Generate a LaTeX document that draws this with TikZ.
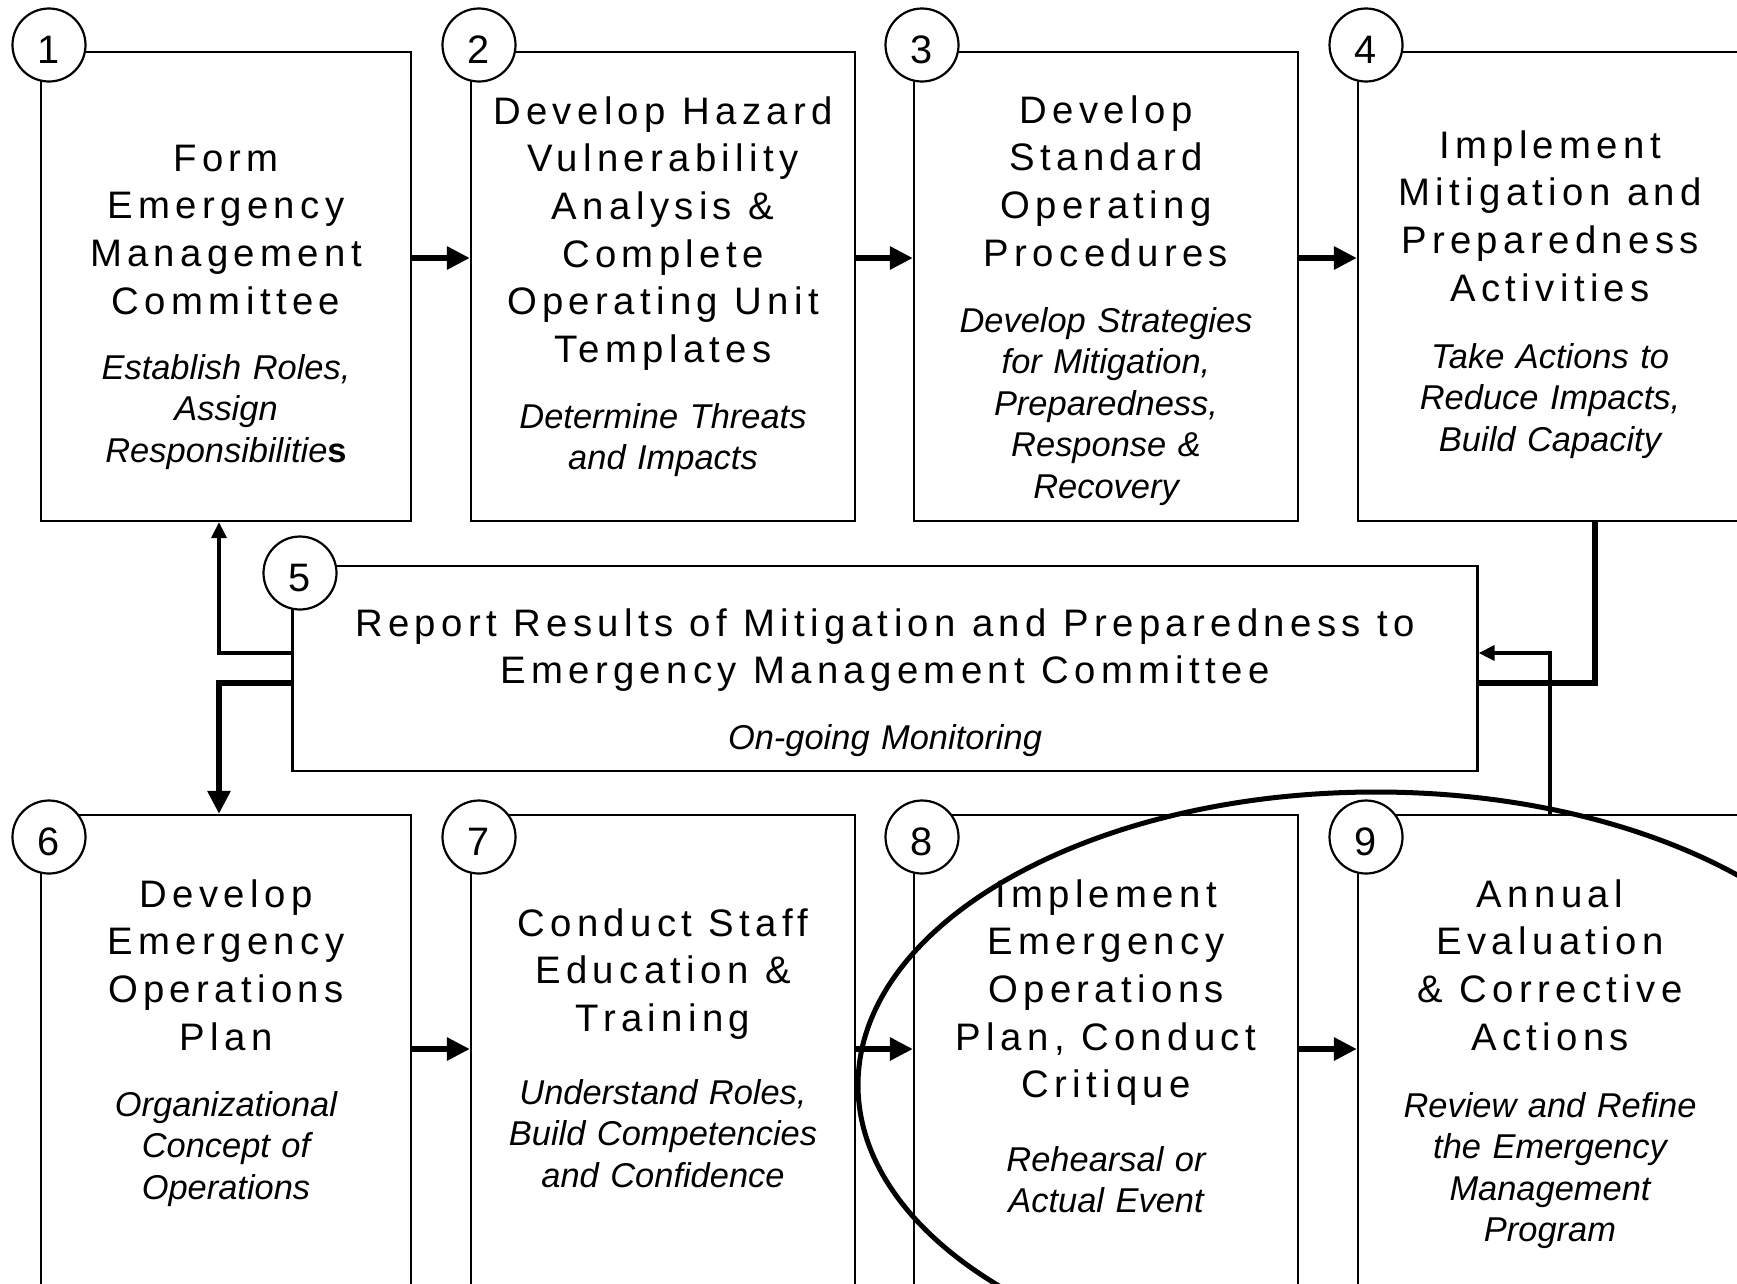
\documentclass[tikz,border=0pt]{standalone}
\usepackage{fontspec}
\setmainfont{Liberation Sans}
\newfontfamily\trackedsans[LetterSpace=14]{Liberation Sans}
\usetikzlibrary{arrows.meta}
\newcommand\headfont{\trackedsans\fontsize{10.9}{13.57}\selectfont}
\newcommand\notefont{\itshape\fontsize{9.8}{11.85}\selectfont}
\newcommand\badgefont{\fontsize{11.3}{13}\selectfont}
\begin{document}
\begin{tikzpicture}[x=0.1mm,y=-0.1mm,
  stage/.style={draw,line width=0.22mm,inner sep=0pt,minimum width=38.4mm,minimum height=46.9mm},
  badge/.style={draw,circle,fill=white,line width=0.22mm,inner sep=0pt,minimum size=7.3mm,
    text height=3.75mm,text depth=0pt,font=\badgefont},
  heading/.style={anchor=base,text width=60mm,align=center,font=\headfont,
    execute at begin node={\spaceskip=0.43em\relax}},
  note/.style={anchor=base,text width=60mm,align=center,font=\notefont},
  flow/.style={line width=0.67mm,-{Triangle[length=2.3mm,width=2.2mm]}},
  feed/.style={line width=0.35mm,-{Triangle[length=1.6mm,width=1.5mm]}},
  trunk/.style={line width=0.67mm}]
\useasboundingbox (0,0) rectangle (1737,1283);
\clip (0,0) rectangle (1737,1283);
% boxes
\node[stage,minimum width=37mm] (S1) at (226,286.5) {};
\node[stage] (S2) at (663,286.5) {};
\node[stage] (S3) at (1106,286.5) {};
\node[stage] (S4) at (1550,286.5) {};
\node[stage,minimum width=118.5mm,minimum height=20.5mm] (S5) at (885,668.5) {};
\node[stage,minimum width=37mm,minimum height=48.5mm] (S6) at (226,1057.5) {};
\node[stage,minimum height=48.5mm] (S7) at (663,1057.5) {};
\node[stage,minimum height=48.5mm] (S8) at (1106,1057.5) {};
\node[stage,minimum height=48.5mm] (S9) at (1550,1057.5) {};
% numbers
\node[badge] (N1) at (49,45) {1};
\node[badge] (N2) at (479,45) {2};
\node[badge] (N3) at (922,45) {3};
\node[badge] (N4) at (1366,45) {4};
\node[badge] (N5) at (300,573) {5};
\node[badge] (N6) at (49,837) {6};
\node[badge] (N7) at (479,837) {7};
\node[badge] (N8) at (922,837) {8};
\node[badge] (N9) at (1366,837) {9};
% texts
\node[heading] (T1) at (226,171) {Form\\Emergency\\Management\\Committee};
\node[note] (D1) at (226,379) {Establish Roles,\\Assign\\Responsibilitie{\bfseries\upshape s}};
\node[heading] (T2) at (663,124) {Develop Hazard\\Vulnerability\\Analysis \&\\Complete\\Operating Unit\\Templates};
\node[note] (D2) at (663,428) {Determine Threats\\and Impacts};
\node[heading] (T3) at (1106,123) {Develop\\Standard\\Operating\\Procedures};
\node[note] (D3) at (1106,332) {Develop Strategies\\for Mitigation,\\Preparedness,\\Response \&\\Recovery};
\node[heading] (T4) at (1550,158) {Implement\\Mitigation and\\Preparedness\\Activities};
\node[note] (D4) at (1550,368) {Take Actions to\\Reduce Impacts,\\Build Capacity};
\node[heading,text width=120mm] (T5) at (885,636) {Report Results of Mitigation and Preparedness to\\Emergency Management Committee};
\node[note] (D5) at (885,749) {On-going Monitoring};
\node[heading] (T6) at (226,907) {Develop\\Emergency\\Operations\\Plan};
\node[note] (D6) at (226,1116) {Organizational\\Concept of\\Operations};
\node[heading] (T7) at (663,936) {Conduct Staff\\Education \&\\Training};
\node[note] (D7) at (663,1104) {Understand Roles,\\Build Competencies\\and Confidence};
\node[heading] (T8) at (1106,907) {Implement\\Emergency\\Operations\\Plan, Conduct\\Critique};
\node[note] (D8) at (1106,1171) {Rehearsal or\\Actual Event};
\node[heading] (T9) at (1550,907) {Annual\\Evaluation\\\& Corrective\\Actions};
\node[note] (D9) at (1550,1117) {Review and Refine\\the Emergency\\Management\\Program};
% connectors
\coordinate (upper) at (0,258);
\coordinate (lower) at (0,1049);
\coordinate (lane) at (219,0);
\coordinate (drop) at (1595,0);
\coordinate (fb) at (0,653);
\coordinate (fd) at (0,683);
\draw[flow] (S1.east |- upper) -- (S2.west |- upper);
\draw[flow] (S2.east |- upper) -- (S3.west |- upper);
\draw[flow] (S3.east |- upper) -- (S4.west |- upper);
\draw[flow] (S6.east |- lower) -- (S7.west |- lower);
\draw[flow] (S7.east |- lower) -- (S8.west |- lower);
\draw[flow] (S8.east |- lower) -- (S9.west |- lower);
\draw[trunk] (drop |- S4.south) |- (S5.east |- fd);
\draw[feed] (S9.north) |- (S5.east |- fb);
\draw[feed] (S5.west |- fb) -| (lane |- S1.south);
\draw[flow] (S5.west |- fd) -| (lane |- S6.north);
% highlight
\draw[line width=0.5mm] (1376,1085) ellipse [x radius=51.8mm,y radius=29.3mm];
\end{tikzpicture}
\end{document}
